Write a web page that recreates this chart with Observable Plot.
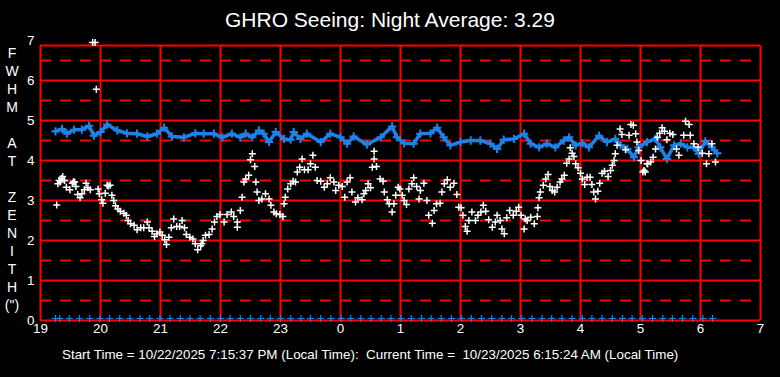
<!DOCTYPE html>
<html>
<head>
<meta charset="utf-8">
<script src="https://cdn.jsdelivr.net/npm/d3@7"></script>
<script src="https://cdn.jsdelivr.net/npm/@observablehq/plot@0.6"></script>
<style>
  html, body { margin: 0; padding: 0; background: #000; }
  body { width: 780px; height: 377px; position: relative; overflow: hidden; font-family: Arial, "Liberation Sans", sans-serif; color: #fff; }
  #chart { position: absolute; left: 0; top: 0; }
  #title { position: absolute; top: 8px; left: 0; width: 780px; text-align: center; font-size: 21px; }
  #caption { position: absolute; top: 347px; left: 62px; font-size: 13.4px; white-space: pre; }
  #ylabel { position: absolute; left: 0; top: 44px; width: 24px; text-align: center; font-size: 14px; line-height: 18px; white-space: pre; }
</style>
</head>
<body>
<div id="chart"></div>
<div id="title"></div>
<div id="ylabel"></div>
<div id="caption"></div>
<script>
// ---- text ----
const titleText = "GHRO Seeing: Night Average: 3.29";
const captionText = "Start Time = 10/22/2025 7:15:37 PM (Local Time):  Current Time =  10/23/2025 6:15:24 AM (Local Time)";
const yLabelLetters = ["F","W","H","M"," ","A","T"," ","Z","E","N","I","T","H","(\")"];

// ---- axes ----
const xTicks = [19,20,21,22,23,24,25,26,27,28,29,30,31];
const xTickLabels = ["19","20","21","22","23","0","1","2","3","4","5","6","7"];
const yTicks = [0,1,2,3,4,5,6,7];
const yTickLabels = ["0","1","2","3","4","5","6","7"];
const yMajor = [0,1,2,3,4,5,6];
const yMinor = [0.5,1.5,2.5,3.5,4.5,5.5,6.5];
const frameTop = 6.875;

// ---- blue series (hour, FWHM) ----
const blueHours = [19.25,19.36,19.44,19.56,19.69,19.81,19.89,20.0,20.11,20.28,20.44,20.61,20.78,20.94,21.06,21.19,21.39,21.58,21.72,21.89,22.03,22.19,22.33,22.42,22.53,22.64,22.72,22.81,22.92,23.06,23.17,23.22,23.33,23.44,23.67,23.83,24.0,24.11,24.22,24.44,24.67,24.86,24.94,25.06,25.22,25.33,25.5,25.61,25.72,25.83,26.0,26.17,26.33,26.5,26.61,26.72,26.89,27.06,27.17,27.31,27.44,27.58,27.72,27.81,27.92,28.03,28.14,28.31,28.44,28.58,28.67,28.78,28.89,28.97,29.11,29.25,29.33,29.44,29.56,29.67,29.78,29.89,29.97,30.08,30.19,30.28];
const blueValues = [4.73,4.79,4.67,4.77,4.77,4.87,4.62,4.71,4.90,4.75,4.68,4.67,4.60,4.67,4.82,4.60,4.58,4.68,4.67,4.67,4.58,4.67,4.58,4.67,4.58,4.75,4.67,4.46,4.71,4.54,4.52,4.71,4.54,4.67,4.46,4.67,4.58,4.42,4.60,4.40,4.58,4.85,4.58,4.43,4.42,4.67,4.68,4.82,4.58,4.38,4.46,4.50,4.50,4.42,4.29,4.52,4.54,4.67,4.42,4.33,4.42,4.33,4.50,4.58,4.38,4.43,4.33,4.62,4.46,4.54,4.38,4.29,4.08,4.33,4.46,4.54,4.33,4.04,4.38,4.42,4.33,4.33,4.17,4.48,4.33,4.18];

// ---- white series (hour, FWHM) ----
const whiteHours = [19.27,19.29,19.31,19.33,19.35,19.37,19.4,19.43,19.49,19.53,19.55,19.57,19.59,19.62,19.66,19.69,19.73,19.76,19.79,19.83,19.87,19.91,19.93,19.96,19.98,20.02,20.04,20.08,20.11,20.13,20.16,20.19,20.22,20.25,20.29,20.33,20.39,20.43,20.46,20.5,20.56,20.61,20.67,20.72,20.78,20.81,20.86,20.9,20.94,20.99,21.03,21.07,21.1,21.14,21.18,21.22,21.27,21.32,21.36,21.4,21.43,21.49,21.54,21.58,21.62,21.67,21.69,21.71,21.75,21.81,21.86,21.9,21.94,21.99,22.06,22.11,22.18,22.22,22.28,22.28,22.33,22.36,22.39,22.42,22.47,22.5,22.53,22.57,22.59,22.61,22.64,22.69,22.75,22.81,22.84,22.89,22.93,22.99,23.04,23.06,23.08,23.12,23.17,23.21,23.25,23.28,23.32,23.36,23.4,23.46,23.5,23.54,23.58,23.61,23.67,23.73,23.78,23.83,23.89,23.92,23.97,24.03,24.07,24.11,24.16,24.19,24.25,24.29,24.36,24.39,24.42,24.46,24.5,24.53,24.56,24.56,24.6,24.66,24.71,24.73,24.78,24.81,24.86,24.89,24.92,24.96,24.99,25.03,25.06,25.1,25.14,25.19,25.22,25.27,25.31,25.33,25.39,25.44,25.47,25.53,25.56,25.6,25.66,25.69,25.73,25.78,25.83,25.89,25.94,25.97,26.01,26.04,26.08,26.11,26.14,26.19,26.25,26.29,26.34,26.38,26.42,26.47,26.53,26.58,26.61,26.66,26.69,26.73,26.77,26.82,26.88,26.93,26.97,27.01,27.06,27.08,27.11,27.17,27.23,27.28,27.29,27.31,27.33,27.38,27.42,27.46,27.49,27.53,27.57,27.61,27.66,27.69,27.73,27.77,27.81,27.83,27.86,27.89,27.92,27.96,28.0,28.03,28.07,28.11,28.16,28.19,28.22,28.25,28.29,28.32,28.36,28.4,28.46,28.5,28.53,28.56,28.58,28.61,28.66,28.69,28.75,28.81,28.84,28.88,28.92,28.94,28.97,29.01,29.04,29.06,29.08,29.11,29.12,29.17,29.21,29.25,29.28,29.32,29.36,29.4,29.44,29.49,29.54,29.6,29.64,29.72,29.75,29.81,29.83,29.89,29.96,30.03,30.1,30.14,30.19,30.25];
const whiteValues = [2.89,3.42,3.50,3.46,3.55,3.60,3.50,3.33,3.27,3.43,3.47,3.46,3.35,3.15,3.07,3.17,3.27,3.43,3.32,3.27,6.95,6.95,5.78,3.29,3.17,3.02,2.93,3.18,3.38,3.36,3.38,3.13,3.00,2.87,2.79,2.73,2.68,2.63,2.50,2.42,2.38,2.27,2.32,2.32,2.46,2.32,2.23,2.10,2.17,2.21,2.13,2.02,1.90,2.08,2.32,2.54,2.35,2.35,2.50,2.32,2.15,2.08,2.04,1.92,1.77,1.87,1.92,2.00,2.13,2.15,2.29,2.46,2.60,2.65,2.46,2.65,2.71,2.60,2.46,2.33,2.75,3.08,3.46,3.54,3.63,4.02,4.17,3.85,3.46,3.21,3.00,3.04,3.17,3.04,2.88,2.71,2.67,2.65,2.60,2.92,3.08,3.29,3.42,3.48,3.46,3.71,3.83,4.04,3.77,3.77,3.92,4.13,3.83,3.50,3.48,3.33,3.42,3.57,3.46,3.25,3.38,3.35,3.08,3.46,3.57,3.21,2.96,3.07,3.02,3.17,3.25,3.42,3.32,3.83,4.04,4.23,3.85,3.54,3.48,3.21,3.02,2.92,2.71,2.92,3.13,3.33,3.29,3.13,3.00,2.90,3.29,3.42,3.57,3.35,3.04,3.25,3.43,3.00,2.63,2.43,2.75,2.92,2.93,3.21,3.42,3.52,3.33,3.43,3.15,2.83,2.82,2.63,2.35,2.23,2.50,2.71,2.50,2.63,2.71,2.88,2.73,2.52,2.33,2.46,2.63,2.50,2.29,2.17,2.57,2.75,2.63,2.73,2.83,2.63,2.29,2.54,2.50,2.58,2.42,2.60,2.82,3.07,3.21,3.38,3.54,3.65,3.35,3.25,3.21,3.33,3.46,3.54,3.63,3.93,4.04,4.32,4.18,4.10,3.92,3.82,3.68,3.54,3.40,3.58,3.58,3.40,3.21,3.04,3.23,3.43,3.68,3.73,3.60,3.75,3.88,4.00,4.17,4.38,4.79,4.65,4.27,4.63,4.90,4.88,4.67,4.46,4.25,4.00,3.71,3.75,3.71,3.92,3.92,3.96,4.08,4.29,4.58,4.68,4.82,4.73,4.52,4.68,4.65,4.29,4.13,4.63,4.98,4.90,4.63,4.42,4.33,4.18,3.92,4.17,4.42,3.96];

// ---- blue zero-line samples (hour) ----
const zeroHours = [19.25,19.32,19.48,19.65,19.82,19.99,20.15,20.32,20.49,20.66,20.82,20.99,21.16,21.33,21.49,21.66,21.83,22.00,22.16,22.33,22.50,22.67,22.83,23.00,23.17,23.34,23.50,23.67,23.84,24.01,24.17,24.34,24.51,24.68,24.84,25.01,25.18,25.35,25.51,25.68,25.85,26.02,26.18,26.35,26.52,26.69,26.85,27.02,27.19,27.36,27.52,27.69,27.86,28.03,28.19,28.36,28.53,28.70,28.86,29.03,29.20,29.37,29.53,29.70,29.87,30.04,30.20];
const zeroValue = 0;

// ---- colours ----
const red = "#ff0000";
const blue = "#1e82e8";
const white = "#ffffff";

const blueData = blueHours.map((h, i) => ({h, v: blueValues[i]}));
const whiteData = whiteHours.map((h, i) => ({h, v: whiteValues[i]}));
const zeroData = zeroHours.map(h => ({h, v: zeroValue}));

const chart = Plot.plot({
  width: 780,
  height: 377,
  marginLeft: 40,
  marginRight: 20,
  marginTop: 40,
  marginBottom: 57,
  style: {background: "#000", color: "#fff", fontFamily: "Arial, 'Liberation Sans', sans-serif", fontSize: "13px"},
  x: {domain: [19, 31]},
  y: {domain: [0, 7]},
  marks: [
    Plot.ruleY(yMinor, {x1: 19, x2: 31, stroke: red, strokeWidth: 2, strokeDasharray: "11,9"}),
    Plot.ruleY(yMajor, {x1: 19, x2: 31, stroke: red, strokeWidth: 2}),
    Plot.ruleY([frameTop], {x1: 19, x2: 31, stroke: red, strokeWidth: 2}),
    Plot.ruleX(xTicks, {y1: 0, y2: frameTop, stroke: red, strokeWidth: 2}),
    Plot.axisX({ticks: xTicks, tickSize: 0, tickPadding: 3, label: null, fontSize: 13.4,
      tickFormat: d => xTickLabels[xTicks.indexOf(d)]}),
    Plot.axisY({ticks: yTicks, tickSize: 0, tickPadding: 6, label: null, fontSize: 13.4,
      tickFormat: d => yTickLabels[yTicks.indexOf(d)]}),
    Plot.line(blueData, {x: "h", y: "v", stroke: blue, strokeWidth: 3.5}),
    Plot.dot(blueData, {x: "h", y: "v", symbol: "plus", r: 2.8, stroke: blue, strokeWidth: 2}),
    Plot.dot(whiteData, {x: "h", y: "v", symbol: "plus", r: 2.4, stroke: white, strokeWidth: 1.5}),
    Plot.dot(zeroData, {x: "h", y: "v", symbol: "plus", r: 2.4, stroke: blue, strokeWidth: 1.2, dy: -2})
  ]
});
document.getElementById("chart").appendChild(chart);
document.getElementById("title").textContent = titleText;
document.getElementById("caption").textContent = captionText;
document.getElementById("ylabel").textContent = yLabelLetters.join("\n");
</script>
</body>
</html>
